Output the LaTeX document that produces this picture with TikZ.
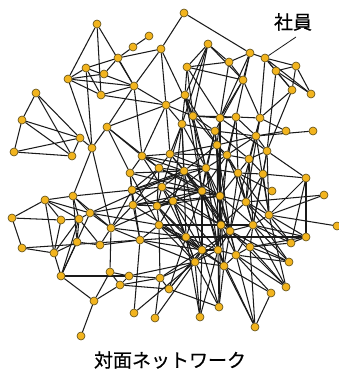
\documentclass[tikz,border=0pt]{standalone}
\usepackage{fontspec}
\newfontfamily\cjk[FakeBold=0.5]{Noto Sans CJK JP}
\usetikzlibrary{backgrounds}
\definecolor{nodefill}{HTML}{F2B41E}
\definecolor{nodeline}{HTML}{5A4A14}
\definecolor{edgecol}{HTML}{1A1A1A}
\tikzset{
  pn/.style={circle, fill=nodefill, draw=nodeline, line width=0.6pt, inner sep=0pt, minimum size=8pt},
  edge/.style={draw=edgecol, line width=1.05pt},
  lbl/.style={font=\cjk\fontsize{19pt}{21pt}\selectfont, inner sep=0pt}
}
\begin{document}
\begin{tikzpicture}[x=1pt,y=-1pt]
\useasboundingbox (0,0) rectangle (339,374);
\foreach \i/\x/\y in {
1/97/24, 2/149/36, 3/133/47, 4/161/49, 5/118/58, 6/86/68, 7/104/74, 8/68/79, 9/134/86, 10/101/95,
11/166/105, 12/36/93, 13/22/120, 14/107/127, 15/80/138, 16/92/148, 17/14/152, 18/72/156, 19/142/156, 20/159/168,
21/170/154, 22/184/13, 23/208/44, 24/250/53, 25/265/58, 26/229/62, 27/296/66, 28/276/71, 29/187/67, 30/243/80,
31/292/90, 32/311/94, 33/185/95, 34/193/116, 35/220/118, 36/236/117, 37/260/118, 38/182/124, 39/215/131, 40/286/131,
41/313/131, 42/256/136, 43/217/145, 44/267/151, 45/227/155, 46/249/159, 47/130/173, 48/132/190, 49/162/187, 50/45/200,
51/73/196, 52/133/205, 53/157/206, 54/12/218, 55/61/220, 56/79/219, 57/90/213, 58/111/228, 59/159/225, 60/140/240,
61/77/242, 62/100/245, 63/22/248, 64/54/253, 65/61/276, 66/110/272, 67/129/276, 68/160/278, 69/120/285, 70/94/301,
71/134/313, 72/155/318, 73/81/336, 74/184/171, 75/206/168, 76/238/173, 77/263/174, 78/306/178, 79/272/191, 80/202/191,
81/220/196, 82/173/201, 83/246/202, 84/324/195, 85/269/215, 86/337/226, 87/221/225, 88/230/231, 89/253/225, 90/186/237,
91/306/237, 92/291/243, 93/250/247, 94/202/250, 95/218/250, 96/236/255, 97/195/262, 98/224/266, 99/289/262, 100/286/287,
101/271/293, 102/219/307, 103/200/317, 104/255/327, 105/169/289}
  \node[pn] (n\i) at (\x,\y) {};
\begin{scope}[on background layer]
\foreach \a/\b in {
1/8,1/9,1/10,2/3,3/5,4/5,5/6,5/7,5/9,6/8,6/9,6/10,6/16,7/8,8/9,8/10,8/16,9/10,9/14,9/4,9/11,9/19,
4/22,4/11,10/11,11/14,11/33,11/19,11/38,12/13,12/15,12/18,13/15,13/17,13/18,15/17,15/16,15/18,
14/16,14/19,14/47,16/51,16/58,17/18,19/20,19/47,19/21,19/49,20/21,20/48,20/74,20/52,21/38,21/74,21/80,
22/24,23/29,23/26,23/30,23/33,23/34,23/38,24/25,24/26,24/30,24/36,24/35,25/27,25/28,25/32,25/31,25/37,
26/29,26/30,26/35,27/28,27/32,27/31,28/31,28/32,28/44,29/30,29/33,29/35,29/34,30/37,30/35,30/39,
31/37,31/44,33/34,33/38,33/43,34/35,34/36,34/75,34/39,35/36,35/43,35/44,36/37,36/42,36/45,
37/40,37/42,37/46,38/39,38/74,38/49,39/43,39/42,39/75,39/46,41/42,40/42,42/43,42/44,42/45,
43/45,43/76,43/74,44/46,44/78,44/77,45/46,45/75,45/76,46/77,46/76,
47/48,47/59,47/52,48/49,48/52,48/53,48/51,48/58,48/74,49/53,49/52,49/74,49/80,49/82,
50/51,50/54,50/55,50/56,50/64,50/57,51/56,51/57,51/61,51/58,52/53,52/57,52/58,52/60,52/81,
53/59,53/82,53/80,53/75,54/55,54/63,55/56,55/64,56/57,56/61,56/64,56/65,56/62,57/58,57/59,57/65,
58/60,58/66,58/62,59/68,59/60,59/82,59/90,59/87,60/62,60/71,60/63,60/90,61/62,61/64,61/65,63/64,64/65,
65/70,65/67,66/67,66/69,66/70,67/69,67/68,67/97,68/69,68/72,68/97,68/105,69/70,69/105,70/73,
74/75,74/80,74/82,74/81,75/76,75/80,75/81,75/87,76/77,76/83,76/81,76/79,77/83,77/78,78/85,78/91,78/92,
80/81,80/82,80/87,80/88,80/94,80/90,81/83,81/87,81/88,81/95,82/90,82/87,
83/84,83/85,83/87,83/89,85/86,85/89,85/91,85/92,87/88,87/89,87/95,88/89,88/94,88/95,88/98,88/96,
89/92,89/93,89/91,90/91,90/94,90/97,91/92,91/93,92/93,93/96,93/100,94/95,94/97,94/103,95/96,95/98,
96/98,96/99,96/104,97/98,97/102,98/101,98/102,99/93,100/96,101/104,102/105,103/97,104/95,
35/81,43/95,95/102,81/98,87/102,43/87,38/90,
33/80,34/80,36/81,37/83,42/88,44/89,45/87,46/83,39/80,38/82,74/94,75/95,76/88,77/89,83/92,
49/90,52/94,53/94,59/94,48/60,20/53,21/75,45/80,43/81,39/81,36/76,44/85,76/89,87/96,89/99,
89/100,83/99,85/100,88/93,81/96,80/95,90/103,94/105,82/97,59/97,60/97,53/90,49/87,74/87,98/104,
93/104,96/101,82/94,75/88,81/89,43/88,99/88,100/88,4/34,11/34,19/74,19/75,20/80,20/81,47/74,47/80,
48/75,52/80,52/82,57/74,58/82,58/90,49/81,53/81,21/43,21/45,38/75,33/75,34/43,11/21,14/20,
74/88,80/98,90/95,82/95,53/97,59/98,60/94,45/83,76/85,77/85,46/89,42/85,84/85,
87/93,88/97,89/96,95/97,94/98,102/94,103/95,105/90,105/94,97/71,72/97,68/94}
  \draw[edge] (n\a) -- (n\b);
\end{scope}
\node[lbl] (emp) at (293,22) {社員};
\coordinate (empend) at (296,37);
\draw[edge, line width=0.8pt] (empend) -- (n25);
\node[lbl] (title) at (170,360) {対面ネットワーク};
\end{tikzpicture}
\end{document}
